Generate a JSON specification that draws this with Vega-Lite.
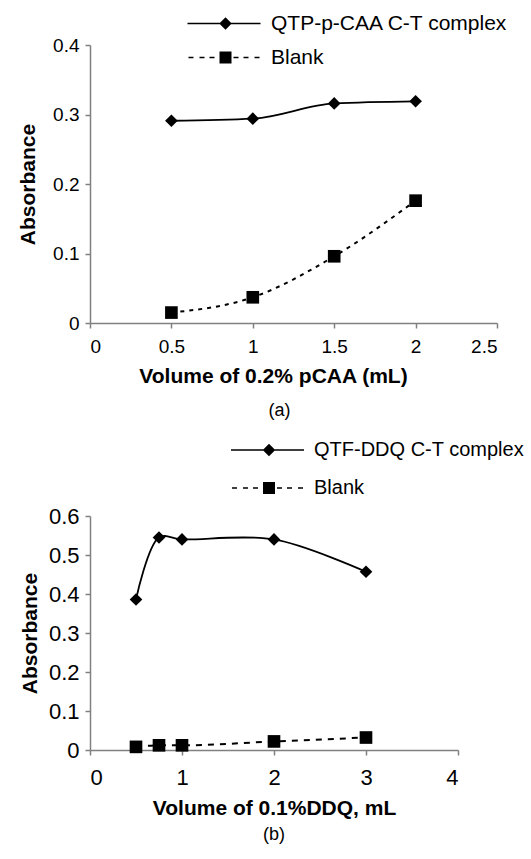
{
  "$schema": "https://vega.github.io/schema/vega-lite/v6.json",
  "padding": {"left": 17, "top": 13, "right": 0, "bottom": 0},
  "spacing": 20,
  "resolve": {
    "scale": {"shape": "independent"},
    "legend": {"shape": "independent"}
  },
  "config": {
    "font": "Liberation Sans",
    "view": {"stroke": null},
    "axis": {
      "grid": false,
      "domainColor": "#808080",
      "tickColor": "#808080",
      "domainWidth": 1.5,
      "tickWidth": 1.5,
      "tickSize": 5,
      "labelFontSize": 19,
      "labelColor": "black",
      "labelPadding": 6,
      "titleFontSize": 21,
      "titleFontWeight": "bold",
      "titleColor": "black"
    },
    "title": {"fontSize": 18, "fontWeight": "normal", "color": "black"}
  },
  "vconcat": [
    {
      "width": 407,
      "height": 278,
      "title": {"text": "(a)", "orient": "bottom", "dx": -14, "offset": 16},
      "data": {
        "values": [
          {"series": "QTP-p-CAA C-T complex", "volume": 0.5, "absorbance": 0.291},
          {"series": "QTP-p-CAA C-T complex", "volume": 1.0, "absorbance": 0.294},
          {"series": "QTP-p-CAA C-T complex", "volume": 1.5, "absorbance": 0.316},
          {"series": "QTP-p-CAA C-T complex", "volume": 2.0, "absorbance": 0.319},
          {"series": "Blank", "volume": 0.5, "absorbance": 0.015},
          {"series": "Blank", "volume": 1.0, "absorbance": 0.037},
          {"series": "Blank", "volume": 1.5, "absorbance": 0.096},
          {"series": "Blank", "volume": 2.0, "absorbance": 0.176}
        ]
      },
      "encoding": {
        "x": {
          "field": "volume", "type": "quantitative",
          "scale": {"domain": [0, 2.5], "nice": false, "zero": false},
          "axis": {"values": [0, 0.5, 1, 1.5, 2, 2.5], "format": "~g", "title": "Volume of 0.2% pCAA (mL)", "titleX": 183, "labelPadding": 9, "titlePadding": 9}
        },
        "y": {
          "field": "absorbance", "type": "quantitative",
          "scale": {"domain": [0, 0.4], "nice": false},
          "axis": {"values": [0, 0.1, 0.2, 0.3, 0.4], "format": "~g", "title": "Absorbance", "titlePadding": 14}
        }
      },
      "layer": [
        {
          "transform": [{"filter": "datum.series !== 'Blank'"}],
          "mark": {"type": "line", "interpolate": "monotone", "color": "black", "strokeWidth": 1.8},
          "encoding": {}
        },
        {
          "transform": [{"filter": "datum.series === 'Blank'"}],
          "mark": {"type": "line", "interpolate": "monotone", "color": "black", "strokeWidth": 2, "strokeDash": [4, 5]},
          "encoding": {}
        },
        {
          "transform": [{"filter": "datum.series !== 'Blank'"}],
          "mark": {"type": "point", "shape": "diamond", "filled": true, "color": "black", "opacity": 1, "size": 160},
          "encoding": {}
        },
        {
          "transform": [{"filter": "datum.series === 'Blank'"}],
          "mark": {"type": "point", "shape": "square", "filled": true, "color": "black", "opacity": 1, "size": 160},
          "encoding": {}
        },
        {
          "transform": [{"filter": "false"}],
          "mark": {"type": "point", "filled": true, "color": "black", "opacity": 1, "size": 100},
          "encoding": {
            "shape": {
              "field": "series", "type": "nominal",
              "scale": {
                "domain": ["QTP-p-CAA C-T complex", "Blank"],
                "range": [
                  "M-7.6,-0.17H7V0.17H-7.6ZM0,-1.25L1.25,0L0,1.25L-1.25,0Z",
                  "M-7.4,-0.17H-6.4V0.17H-7.4ZM-5.2,-0.17H-4.2V0.17H-5.2ZM-3.2,-0.17H-2.2V0.17H-3.2ZM-1.2,-1.2H1.2V1.2H-1.2ZM1.6,-0.17H2.6V0.17H1.6ZM3.6,-0.17H4.6V0.17H3.6ZM5.8,-0.17H6.8V0.17H5.8Z"
                ]
              },
              "legend": {
                "orient": "none", "legendX": 125, "legendY": -32,
                "title": null, "direction": "vertical",
                "labelFontSize": 21, "labelColor": "black", "labelOffset": 35, "labelLimit": 400,
                "symbolSize": 100, "symbolFillColor": "black", "symbolOpacity": 1,
                "rowPadding": 12, "padding": 0
              }
            }
          }
        }
      ]
    },
    {
      "width": 368,
      "height": 234,
      "title": {"text": "(b)", "orient": "bottom", "dx": 0, "offset": 8},
      "data": {
        "values": [
          {"series": "QTF-DDQ C-T complex", "volume": 0.5, "absorbance": 0.386},
          {"series": "QTF-DDQ C-T complex", "volume": 0.75, "absorbance": 0.545},
          {"series": "QTF-DDQ C-T complex", "volume": 1.0, "absorbance": 0.54},
          {"series": "QTF-DDQ C-T complex", "volume": 2.0, "absorbance": 0.54},
          {"series": "QTF-DDQ C-T complex", "volume": 3.0, "absorbance": 0.457},
          {"series": "Blank", "volume": 0.5, "absorbance": 0.008},
          {"series": "Blank", "volume": 0.75, "absorbance": 0.012},
          {"series": "Blank", "volume": 1.0, "absorbance": 0.012},
          {"series": "Blank", "volume": 2.0, "absorbance": 0.022},
          {"series": "Blank", "volume": 3.0, "absorbance": 0.032}
        ]
      },
      "encoding": {
        "x": {
          "field": "volume", "type": "quantitative",
          "scale": {"domain": [0, 4], "nice": false, "zero": false},
          "axis": {"values": [0, 1, 2, 3, 4], "format": "~g", "title": "Volume of 0.1%DDQ, mL", "labelFontSize": 22, "labelPadding": 12, "titlePadding": 9, "titleFontSize": 21}
        },
        "y": {
          "field": "absorbance", "type": "quantitative",
          "scale": {"domain": [0, 0.6], "nice": false},
          "axis": {"values": [0, 0.1, 0.2, 0.3, 0.4, 0.5, 0.6], "format": "~g", "title": "Absorbance", "labelFontSize": 22, "titlePadding": 8}
        }
      },
      "layer": [
        {
          "transform": [{"filter": "datum.series !== 'Blank'"}],
          "mark": {"type": "line", "interpolate": "catmull-rom", "color": "black", "strokeWidth": 1.8},
          "encoding": {}
        },
        {
          "transform": [{"filter": "datum.series === 'Blank'"}],
          "mark": {"type": "line", "interpolate": "monotone", "color": "black", "strokeWidth": 2, "strokeDash": [6, 6]},
          "encoding": {}
        },
        {
          "transform": [{"filter": "datum.series !== 'Blank'"}],
          "mark": {"type": "point", "shape": "diamond", "filled": true, "color": "black", "opacity": 1, "size": 160},
          "encoding": {}
        },
        {
          "transform": [{"filter": "datum.series === 'Blank'"}],
          "mark": {"type": "point", "shape": "square", "filled": true, "color": "black", "opacity": 1, "size": 160},
          "encoding": {}
        },
        {
          "transform": [{"filter": "false"}],
          "mark": {"type": "point", "filled": true, "color": "black", "opacity": 1, "size": 100},
          "encoding": {
            "shape": {
              "field": "series", "type": "nominal",
              "scale": {
                "domain": ["QTF-DDQ C-T complex", "Blank"],
                "range": [
                  "M-7.6,-0.17H7V0.17H-7.6ZM0,-1.25L1.25,0L0,1.25L-1.25,0Z",
                  "M-7.4,-0.17H-6.4V0.17H-7.4ZM-5.2,-0.17H-4.2V0.17H-5.2ZM-3.2,-0.17H-2.2V0.17H-3.2ZM-1.2,-1.2H1.2V1.2H-1.2ZM1.6,-0.17H2.6V0.17H1.6ZM3.6,-0.17H4.6V0.17H3.6ZM5.8,-0.17H6.8V0.17H5.8Z"
                ]
              },
              "legend": {
                "orient": "none", "legendX": 169, "legendY": -76,
                "title": null, "direction": "vertical",
                "labelFontSize": 20, "labelColor": "black", "labelOffset": 35, "labelLimit": 400,
                "symbolSize": 100, "symbolFillColor": "black", "symbolOpacity": 1,
                "rowPadding": 18, "padding": 0
              }
            }
          }
        }
      ]
    }
  ]
}
